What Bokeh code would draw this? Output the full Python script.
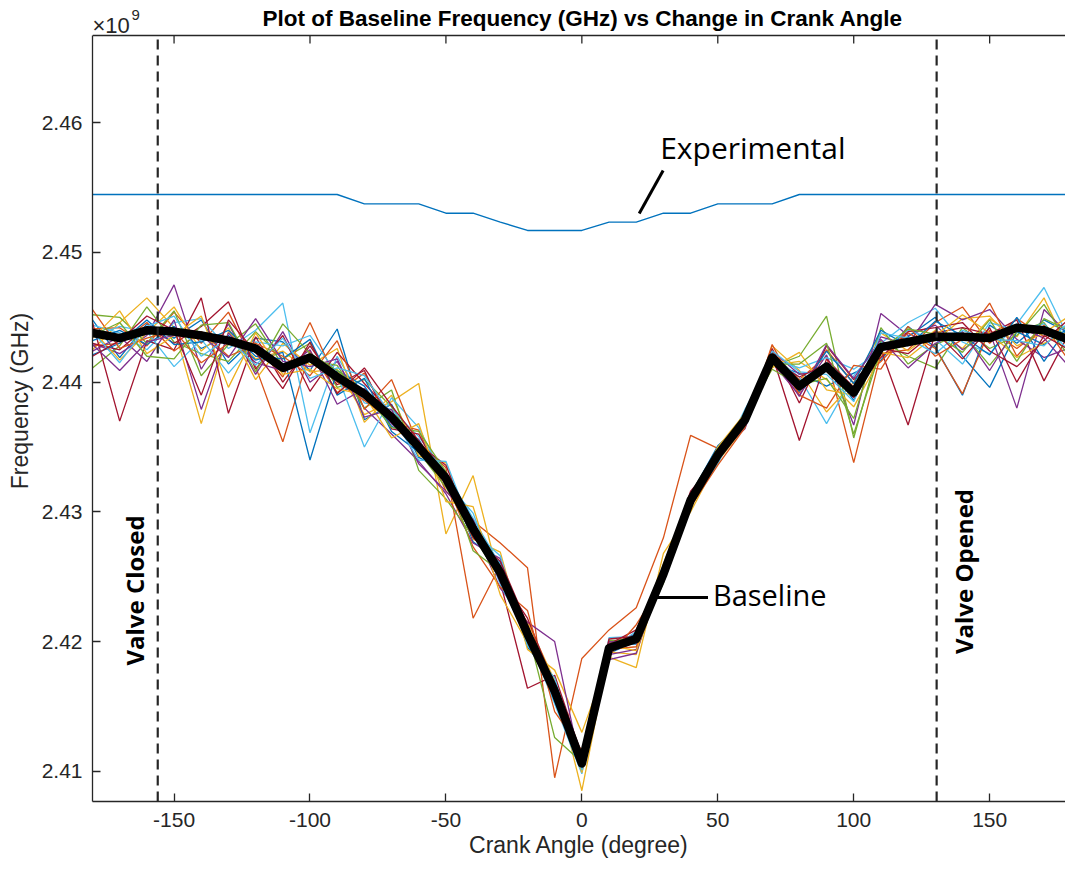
from bokeh.plotting import figure
from bokeh.models import Range1d, Span, Label, FixedTicker, CustomJSTickFormatter
from bokeh.embed import file_html
from bokeh.resources import INLINE

# Crank angle grid (degrees)
crank_angle = [-180, -170, -160, -150, -140, -130, -120, -110, -100, -90,
               -80, -70, -60, -50, -40, -30, -20, -10, 0, 10,
               20, 30, 40, 50, 60, 70, 80, 90, 100, 110,
               120, 130, 140, 150, 160, 170, 180]

# Mean baseline resonance frequency (MHz)
baseline_mhz = [2443.8, 2443.4, 2444.0, 2443.9, 2443.6, 2443.2, 2442.6, 2441.1, 2441.9, 2440.4,
                2439.1, 2437.3, 2435.0, 2432.6, 2428.7, 2425.3, 2420.6, 2416.2, 2410.6, 2419.5,
                2420.2, 2425.2, 2430.9, 2434.4, 2437.1, 2441.9, 2439.7, 2441.2, 2439.2, 2442.7,
                2443.1, 2443.5, 2443.5, 2443.4, 2444.2, 2444.0, 2443.2]

# Experimental resonance frequency (MHz)
experimental_mhz = [2454.47, 2454.47, 2454.47, 2454.47, 2454.47, 2454.47, 2454.47, 2454.47, 2454.47, 2454.47,
                    2453.75, 2453.75, 2453.75, 2453.03, 2453.03, 2452.34, 2451.70, 2451.70, 2451.70, 2452.34,
                    2452.34, 2453.03, 2453.03, 2453.75, 2453.75, 2453.75, 2454.47, 2454.47, 2454.47, 2454.47,
                    2454.47, 2454.47, 2454.47, 2454.47, 2454.47, 2454.47, 2454.47]

# Individual baseline sweeps (MHz)
trial_01 = [2444.8, 2441.9, 2444.5, 2443.4, 2444.8, 2441.4, 2443.4, 2443.1, 2440.9, 2444.1,
            2437.1, 2438.3, 2434.2, 2433.1, 2427.7, 2426.1, 2419.6, 2416.8, 2410.3, 2419.8,
            2419.8, 2425.7, 2430.6, 2434.8, 2436.9, 2441.4, 2440.7, 2439.7, 2440.7, 2441.7,
            2444.3, 2442.7, 2439.0, 2444.4, 2443.0, 2444.8, 2443.7]
trial_02 = [2444.1, 2444.2, 2442.8, 2445.4, 2443.0, 2445.4, 2441.2, 2435.4, 2442.4, 2439.2,
            2440.7, 2436.9, 2436.3, 2431.6, 2429.3, 2427.6, 2425.7, 2409.5, 2418.7, 2420.9,
            2422.6, 2428.0, 2435.9, 2434.9, 2437.3, 2442.3, 2440.2, 2442.0, 2433.8, 2442.2,
            2442.5, 2444.6, 2445.8, 2443.0, 2444.9, 2443.5, 2444.4]
trial_03 = [2442.5, 2444.6, 2446.5, 2444.2, 2436.8, 2443.9, 2441.8, 2442.4, 2440.8, 2441.0,
            2437.5, 2438.5, 2439.9, 2428.3, 2432.8, 2424.5, 2421.5, 2417.0, 2408.5, 2419.2,
            2419.0, 2426.0, 2431.2, 2433.9, 2436.6, 2442.8, 2440.9, 2437.7, 2440.0, 2443.8,
            2442.4, 2444.0, 2442.6, 2444.9, 2443.5, 2446.5, 2442.0]
trial_04 = [2443.0, 2442.2, 2443.6, 2447.5, 2441.0, 2444.5, 2440.6, 2443.9, 2440.0, 2441.6,
            2438.0, 2436.0, 2433.9, 2431.4, 2427.6, 2426.4, 2419.8, 2416.9, 2411.0, 2419.0,
            2419.4, 2425.0, 2431.4, 2434.1, 2437.5, 2441.5, 2439.0, 2442.1, 2436.7, 2445.3,
            2443.6, 2444.4, 2442.5, 2443.9, 2438.0, 2445.6, 2443.5]
trial_05 = [2441.1, 2442.8, 2445.8, 2443.1, 2442.2, 2441.6, 2443.9, 2441.8, 2443.0, 2439.6,
            2440.2, 2438.1, 2434.6, 2431.9, 2428.2, 2424.8, 2421.2, 2415.6, 2410.9, 2419.9,
            2420.5, 2424.8, 2430.5, 2434.7, 2436.8, 2441.2, 2442.0, 2445.1, 2435.7, 2443.2,
            2442.0, 2441.1, 2444.2, 2442.6, 2443.6, 2446.0, 2442.6]
trial_06 = [2444.4, 2443.8, 2442.5, 2444.6, 2444.9, 2442.6, 2444.0, 2446.1, 2436.1, 2442.0,
            2438.4, 2437.9, 2435.8, 2433.0, 2429.5, 2425.9, 2420.0, 2416.5, 2410.3, 2419.3,
            2420.8, 2425.5, 2431.5, 2434.0, 2437.7, 2442.0, 2440.4, 2436.8, 2440.5, 2443.0,
            2444.6, 2445.7, 2443.1, 2442.2, 2444.5, 2447.3, 2443.0]
trial_07 = [2444.6, 2437.0, 2443.2, 2442.5, 2446.5, 2437.6, 2443.5, 2440.0, 2442.8, 2439.8,
            2440.9, 2436.4, 2436.0, 2432.0, 2429.0, 2424.6, 2416.4, 2417.4, 2411.2, 2419.6,
            2420.6, 2424.9, 2430.8, 2434.2, 2437.3, 2442.1, 2435.5, 2441.8, 2439.6, 2442.5,
            2436.7, 2443.8, 2444.2, 2443.7, 2444.8, 2440.1, 2444.1]
trial_08 = [2443.2, 2444.0, 2442.9, 2444.3, 2442.6, 2443.6, 2441.7, 2442.3, 2434.0, 2440.9,
            2439.7, 2436.6, 2435.6, 2432.1, 2428.3, 2425.0, 2421.1, 2415.8, 2410.8, 2419.1,
            2420.0, 2425.4, 2431.0, 2434.6, 2436.6, 2441.6, 2440.0, 2441.5, 2438.6, 2442.9,
            2443.5, 2445.0, 2442.0, 2439.6, 2443.9, 2442.9, 2444.3]
trial_09 = [2442.8, 2443.0, 2444.6, 2442.4, 2443.9, 2442.0, 2442.9, 2440.4, 2444.6, 2440.0,
            2438.6, 2437.0, 2435.4, 2433.4, 2421.8, 2425.9, 2420.3, 2416.0, 2410.4, 2419.4,
            2419.6, 2425.0, 2430.3, 2434.2, 2437.2, 2441.7, 2439.2, 2442.5, 2439.9, 2441.6,
            2443.8, 2442.6, 2439.1, 2444.0, 2442.6, 2444.2, 2443.1]
trial_10 = [2444.0, 2441.7, 2443.8, 2445.8, 2442.4, 2444.2, 2440.2, 2443.0, 2441.3, 2442.6,
            2436.9, 2439.0, 2434.3, 2433.8, 2427.9, 2426.9, 2419.4, 2417.8, 2413.0, 2418.8,
            2418.0, 2426.8, 2430.0, 2434.0, 2437.0, 2441.3, 2441.6, 2440.2, 2438.1, 2442.0,
            2443.3, 2443.2, 2444.9, 2445.1, 2442.8, 2443.8, 2445.2]
trial_11 = [2442.4, 2443.5, 2441.6, 2444.8, 2437.9, 2443.8, 2441.5, 2440.9, 2442.5, 2438.3,
            2439.5, 2436.8, 2434.9, 2432.9, 2428.9, 2424.1, 2421.5, 2420.0, 2410.0, 2418.6,
            2419.1, 2425.4, 2431.2, 2434.5, 2436.4, 2442.4, 2440.6, 2441.0, 2439.4, 2443.5,
            2442.9, 2446.0, 2444.8, 2445.6, 2443.3, 2441.9, 2442.7]
trial_12 = [2445.2, 2445.0, 2443.0, 2445.5, 2440.5, 2442.9, 2444.5, 2441.3, 2441.7, 2441.3,
            2438.0, 2439.4, 2433.2, 2431.0, 2428.1, 2425.6, 2420.9, 2412.6, 2410.7, 2420.1,
            2420.1, 2424.5, 2431.4, 2434.9, 2437.4, 2441.0, 2439.8, 2440.3, 2437.2, 2444.2,
            2441.4, 2442.9, 2443.8, 2441.3, 2443.9, 2444.6, 2441.8]
trial_13 = [2443.5, 2444.3, 2443.9, 2441.2, 2443.3, 2440.7, 2443.1, 2442.8, 2443.6, 2440.6,
            2435.0, 2438.8, 2436.5, 2432.3, 2429.9, 2424.4, 2420.4, 2415.2, 2409.8, 2420.3,
            2420.4, 2425.9, 2430.7, 2433.7, 2437.9, 2441.8, 2441.1, 2441.9, 2441.0, 2442.4,
            2444.0, 2443.3, 2441.4, 2444.6, 2444.0, 2444.5, 2442.2]
trial_14 = [2443.0, 2442.5, 2444.3, 2443.0, 2444.3, 2446.2, 2441.0, 2443.6, 2439.3, 2442.3,
            2439.9, 2437.6, 2435.2, 2433.6, 2428.4, 2424.9, 2421.8, 2416.6, 2411.4, 2419.8,
            2420.9, 2425.6, 2431.6, 2434.0, 2437.0, 2442.6, 2438.4, 2442.8, 2440.2, 2441.9,
            2443.9, 2444.2, 2444.6, 2442.4, 2441.2, 2443.2, 2445.0]
trial_15 = [2442.1, 2443.0, 2444.8, 2442.9, 2443.1, 2444.0, 2442.0, 2441.8, 2443.3, 2439.0,
            2440.3, 2436.2, 2434.6, 2432.8, 2429.1, 2425.7, 2421.0, 2415.4, 2410.2, 2419.5,
            2420.6, 2424.7, 2431.3, 2435.1, 2437.0, 2442.2, 2439.3, 2442.4, 2439.9, 2444.0,
            2442.8, 2444.7, 2443.6, 2442.1, 2445.0, 2441.6, 2444.6]
trial_16 = [2445.6, 2442.6, 2443.4, 2444.0, 2441.5, 2443.0, 2443.0, 2442.0, 2440.5, 2443.2,
            2437.9, 2440.2, 2435.1, 2432.4, 2427.3, 2424.2, 2422.4, 2414.6, 2411.6, 2418.9,
            2421.3, 2424.6, 2430.4, 2433.6, 2436.5, 2442.9, 2439.0, 2438.0, 2441.3, 2441.0,
            2444.3, 2442.0, 2443.3, 2446.1, 2442.0, 2444.4, 2441.4]
trial_17 = [2443.4, 2445.5, 2442.2, 2443.6, 2445.1, 2439.6, 2443.8, 2440.6, 2441.0, 2439.5,
            2439.0, 2435.7, 2436.8, 2430.8, 2430.4, 2423.6, 2419.9, 2416.4, 2409.9, 2419.7,
            2419.3, 2425.1, 2430.8, 2435.0, 2437.6, 2441.1, 2442.3, 2439.4, 2439.0, 2442.3,
            2441.9, 2443.6, 2445.2, 2443.8, 2441.9, 2443.0, 2444.0]
trial_18 = [2442.9, 2440.9, 2443.1, 2443.6, 2443.6, 2441.9, 2444.9, 2441.6, 2441.2, 2441.8,
            2437.3, 2437.9, 2433.7, 2431.6, 2429.4, 2424.6, 2421.0, 2416.1, 2410.5, 2420.0,
            2419.9, 2425.3, 2430.9, 2434.3, 2437.4, 2441.9, 2438.9, 2442.9, 2440.3, 2443.3,
            2441.1, 2443.0, 2443.9, 2440.9, 2444.3, 2443.4, 2441.0]
trial_19 = [2443.6, 2444.6, 2442.0, 2441.8, 2444.4, 2444.6, 2440.8, 2444.5, 2442.2, 2440.9,
            2439.2, 2436.5, 2436.2, 2433.1, 2427.0, 2425.4, 2420.2, 2416.8, 2411.0, 2419.6,
            2420.3, 2425.7, 2431.1, 2434.3, 2436.9, 2441.4, 2441.4, 2443.0, 2436.0, 2442.5,
            2444.1, 2443.7, 2442.3, 2444.8, 2441.6, 2444.9, 2443.9]
trial_20 = [2443.9, 2441.5, 2444.3, 2445.1, 2442.0, 2443.4, 2441.3, 2443.4, 2440.3, 2441.1,
            2440.5, 2437.4, 2434.0, 2433.9, 2428.5, 2426.6, 2419.7, 2417.2, 2410.1, 2419.2,
            2420.1, 2425.8, 2430.5, 2434.5, 2437.3, 2442.4, 2440.8, 2440.6, 2438.5, 2443.8,
            2443.4, 2442.2, 2444.0, 2443.3, 2443.2, 2442.8, 2444.8]
trial_21 = [2442.0, 2443.2, 2445.1, 2444.0, 2439.0, 2444.8, 2442.3, 2439.5, 2443.1, 2439.1,
            2441.1, 2438.2, 2435.5, 2432.5, 2428.0, 2426.2, 2421.3, 2415.9, 2410.9, 2420.2,
            2420.4, 2425.0, 2431.0, 2434.4, 2436.7, 2441.7, 2440.4, 2441.4, 2438.8, 2442.6,
            2442.2, 2443.9, 2441.8, 2444.2, 2440.0, 2443.6, 2442.4]

trials_mhz = [trial_01, trial_02, trial_03, trial_04, trial_05, trial_06, trial_07,
              trial_08, trial_09, trial_10, trial_11, trial_12, trial_13, trial_14,
              trial_15, trial_16, trial_17, trial_18, trial_19, trial_20, trial_21]

# Valve timing (degrees)
valve_closed_deg = -156
valve_opened_deg = 130.5

y_ticks = [2.41, 2.42, 2.43, 2.44, 2.45, 2.46]
x_ticks = [-150, -100, -50, 0, 50, 100, 150]

# MATLAB-style default line colour order
line_colors = ["#0072BD", "#D95319", "#EDB120", "#7E2F8E", "#77AC30", "#4DBEEE", "#A2142F"]


def to_ghz(values):
    return [v / 1000.0 for v in values]


AXIS_COLOR = "#262626"
TICK_FONT = "Liberation Sans"
NOTE_FONT = "Open Sans"

px_per_ghz = 12970.0          # vertical scale of the frame (pixels per GHz)
y_lo, y_box = 2.40767, 2.46673  # axes box limits
y_view = y_box + 35.0 / px_per_ghz  # headroom above the box for title and exponent

p = figure(width=1065, height=870, output_backend="svg", toolbar_location=None,
           x_range=Range1d(-180, 177.9), y_range=Range1d(y_lo, y_view),
           min_border_left=92, min_border_right=0, min_border_top=0, min_border_bottom=69,
           background_fill_color="white", border_fill_color="white")

p.outline_line_color = None
p.grid.visible = False

for ax in (p.xaxis[0], p.yaxis[0]):
    ax.axis_line_color = AXIS_COLOR
    ax.axis_line_width = 1.3
    ax.major_tick_line_color = AXIS_COLOR
    ax.major_tick_line_width = 1.3
    ax.major_tick_in = 8
    ax.major_tick_out = 0
    ax.minor_tick_line_color = None
    ax.major_label_text_font = TICK_FONT
    ax.major_label_text_font_size = "21px"
    ax.major_label_text_color = AXIS_COLOR
    ax.axis_label_text_font = TICK_FONT
    ax.axis_label_text_font_size = "23px"
    ax.axis_label_text_font_style = "normal"
    ax.axis_label_text_color = AXIS_COLOR

p.xaxis.ticker = FixedTicker(ticks=x_ticks)
p.yaxis.ticker = FixedTicker(ticks=y_ticks)
p.yaxis.bounds = (y_lo, y_box)
p.xaxis.formatter = CustomJSTickFormatter(code="return tick.toString();")
p.yaxis.formatter = CustomJSTickFormatter(code="return tick.toFixed(2);")
p.xaxis.axis_label = "Crank Angle (degree)"
p.yaxis.axis_label = "Frequency (GHz)"
p.xaxis.major_label_standoff = 11
p.xaxis.axis_label_standoff = 2
p.yaxis.major_label_standoff = 10
p.yaxis.axis_label_standoff = 6

# top edge of the box with inward tick marks
p.add_layout(Span(location=y_box, dimension="width", line_color=AXIS_COLOR, line_width=1.3))
tick_len = 8.0 / px_per_ghz
p.segment(x0=x_ticks, y0=[y_box] * len(x_ticks), x1=x_ticks,
          y1=[y_box - tick_len] * len(x_ticks), line_color=AXIS_COLOR, line_width=1.3)

# title
p.add_layout(Label(x=0.3, y=y_box + 17.0 / px_per_ghz,
                   text="Plot of Baseline Frequency (GHz) vs Change in Crank Angle",
                   text_align="center", text_baseline="alphabetic", text_font=TICK_FONT,
                   text_font_size="22.5px", text_font_style="bold", text_color="black"))

# exponent marker above the y axis
p.add_layout(Label(x=-180, y=y_box, text="×10", y_offset=10, text_baseline="alphabetic",
                   text_font=TICK_FONT, text_font_size="22px", text_color=AXIS_COLOR))
p.add_layout(Label(x=-180, y=y_box, text="9", x_offset=39, y_offset=20, text_baseline="alphabetic",
                   text_font=TICK_FONT, text_font_size="15px", text_color=AXIS_COLOR))

# individual sweeps
for i, trial in enumerate(trials_mhz):
    p.line(crank_angle, to_ghz(trial), line_color=line_colors[i % len(line_colors)],
           line_width=1.3)

# averaged baseline
p.line(crank_angle, to_ghz(baseline_mhz), line_color="black", line_width=8.5,
       line_join="round", line_cap="round")

# experimental curve
p.line(crank_angle, to_ghz(experimental_mhz), line_color="#0072BD", line_width=1.4)

# valve timing markers, limited to the box
for loc in (valve_closed_deg, valve_opened_deg):
    p.segment(x0=[loc], y0=[y_lo], x1=[loc], y1=[y_box], line_color=AXIS_COLOR,
              line_width=2.2, line_dash="10 6")

p.add_layout(Label(x=-164.5, y=2.42394, text="Valve Closed", angle=1.5708,
                   text_align="center", text_baseline="middle", text_font=NOTE_FONT,
                   text_font_size="24px", text_font_style="bold", text_color="black"))
p.add_layout(Label(x=140.4, y=2.4254, text="Valve Opened", angle=1.5708,
                   text_align="center", text_baseline="middle", text_font=NOTE_FONT,
                   text_font_size="24px", text_font_style="bold", text_color="black"))

# callouts
p.add_layout(Label(x=28.8, y=2.45809, text="Experimental", text_align="left",
                   text_baseline="alphabetic", text_font=NOTE_FONT, text_font_size="30px",
                   text_color="black"))
p.line([21.1, 29.9], [2.45301, 2.45632], line_color="black", line_width=3)

p.add_layout(Label(x=48.2, y=2.42363, text="Baseline", text_align="left",
                   text_baseline="alphabetic", text_font=NOTE_FONT, text_font_size="29px",
                   text_color="black"))
p.line([27.3, 46.4], [2.4234, 2.4234], line_color="black", line_width=3)

open("out.html", "w").write(file_html(p, INLINE))
